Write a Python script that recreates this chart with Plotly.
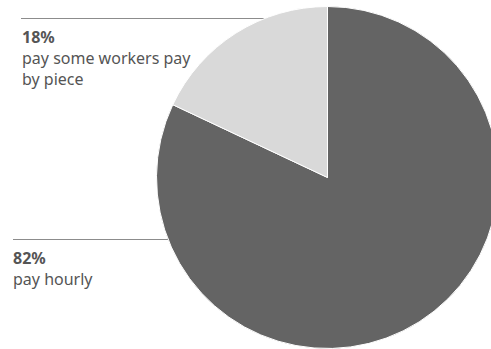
import plotly.graph_objects as go

# Share of employers by pay method (hourly first so the piece-rate slice sits left of 12 o'clock)
labels = ["pay hourly", "pay some workers pay by piece"]
values = [82, 18]
colors = ["#646464", "#d9d9d9"]
pct_labels = ["82%", "18%"]
desc_lines = [["pay hourly"], ["pay some workers pay", "by piece"]]

W, H = 500, 349

fig = go.Figure(
    go.Pie(
        labels=labels,
        values=values,
        sort=False,
        direction="counterclockwise",
        rotation=0,
        marker=dict(colors=colors, line=dict(color="#ffffff", width=1)),
        textinfo="none",
        hoverinfo="label+percent",
        domain=dict(x=[156.5 / W, 498.5 / W], y=[0.5 / H, 342.5 / H]),
        showlegend=False,
    )
)

font_family = "Noto Sans, Open Sans, sans-serif"
txt = "#555555"


def px_y(y):
    return 1 - y / H


# label block positions (left x, top y in pixels)
block_pos = [(12, 246.3), (21, 25.4)]

annotations = []
for pct, lines, (bx, by) in zip(pct_labels, desc_lines, block_pos):
    annotations.append(dict(
        text="<b>" + pct + "</b><br>" + "<br>".join(lines),
        x=bx / W, y=px_y(by), xref="paper", yref="paper",
        xanchor="left", yanchor="top", align="left", showarrow=False,
        borderpad=0, font=dict(family=font_family, size=16, color=txt),
    ))

fig.update_layout(
    width=W,
    height=H,
    margin=dict(l=0, r=0, t=0, b=0),
    paper_bgcolor="#ffffff",
    plot_bgcolor="#ffffff",
    shapes=[
        dict(type="line", xref="paper", yref="paper", x0=21 / W, x1=300 / W,
             y0=px_y(18.5), y1=px_y(18.5), line=dict(color="#8c8c8c", width=1), layer="below"),
        dict(type="line", xref="paper", yref="paper", x0=13 / W, x1=200 / W,
             y0=px_y(239.5), y1=px_y(239.5), line=dict(color="#8c8c8c", width=1), layer="below"),
    ],
    annotations=annotations,
)

fig.write_html(
    "out.html",
    config=dict(displayModeBar=False, responsive=False),
    post_script="document.documentElement.style.overflow='hidden';document.body.style.overflow='hidden';",
)
